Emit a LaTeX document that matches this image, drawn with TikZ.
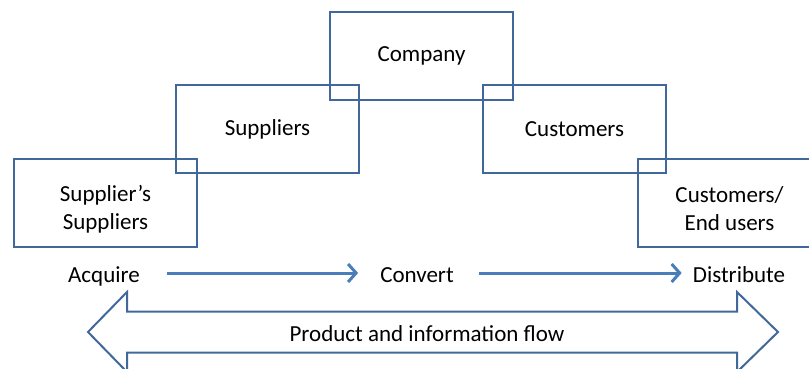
\documentclass[tikz,border=0pt]{standalone}
\usepackage{fontspec}
\setmainfont{Carlito}
\usetikzlibrary{positioning,arrows.meta}
\definecolor{boxblue}{RGB}{65,104,155}
\definecolor{flowblue}{RGB}{74,126,187}
\newcommand{\dropline}{\rule{0pt}{28pt}}

\begin{document}
\begin{tikzpicture}[x=1pt, y=1pt,
        party/.style={draw=boxblue, line width=2.2pt, minimum width=183pt, minimum height=88pt,
            inner sep=0pt, align=center, font=\fontsize{23}{28}\selectfont},
        stage/.style={inner sep=0pt, text height=20pt, text depth=2pt, font=\fontsize{23}{28}\selectfont},
        flow/.style={draw=flowblue, line width=3pt, -{Straight Barb[length=8pt,width=18pt]}}]
        \useasboundingbox (0,0) rectangle (809,-369);

        \node[party] (ss) at (105.5,-203) {\dropline Supplier’s\\Suppliers};
        \node[party, on grid, above right=74pt and 162pt of ss] (sup) {Suppliers};
        \node[party, on grid, above right=73pt and 154pt of sup] (comp) {Company};
        \node[party, on grid, below right=73pt and 153pt of comp] (cust) {Customers};
        \node[party, on grid, below right=74pt and 155pt of cust] (end) {\dropline Customers/\\End users};

        \node[stage] (acq) at (104,-273) {Acquire};
        \node[stage] (conv) at (417,-273) {Convert};
        \node[stage] (dist) at (739,-273) {Distribute};

        \draw[flow, shorten <=27pt, shorten >=22pt] (acq.east) -- (conv.west);
        \draw[flow, shorten <=25pt, shorten >=11pt] (conv.east) -- (dist.west);

        % two-headed flow arrow
        \draw[draw=boxblue, line width=2pt, line join=miter]
            (88,-332) -- (127,-292) -- (127,-311.5) -- (737,-311.5) -- (737,-292)
            -- (778,-332) -- (737,-372) -- (737,-352.5) -- (127,-352.5) -- (127,-372) -- cycle;
        \node[stage] (info) at (427,-332) {Product and information flow};
\end{tikzpicture}
\end{document}
